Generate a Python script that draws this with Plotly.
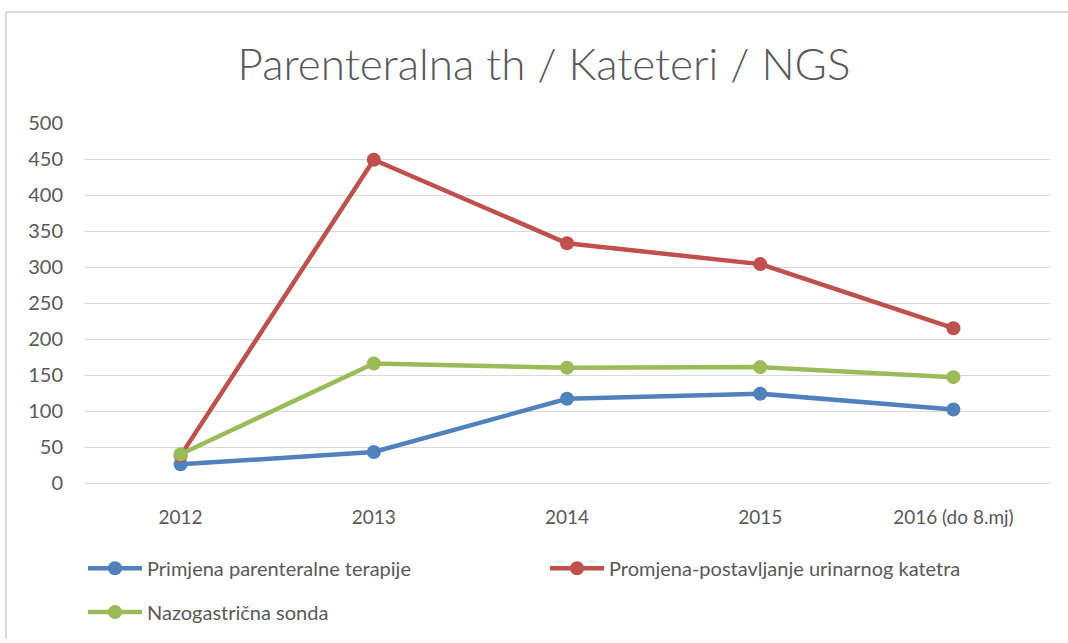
import plotly.graph_objects as go

categories = ["2012", "2013", "2014", "2015", "2016 (do 8.mj)"]
parenteralna = [26, 43, 117, 124, 102]
kateter = [38, 449, 333, 304, 215]
sonda = [40, 166, 160, 161, 147]
names = ["Primjena parenteralne terapije",
         "Promjena-postavljanje urinarnog katetra",
         "Nazogastrična sonda"]
colors = ["#4F81BD", "#C0504D", "#9BBB59"]
ytick_vals = [0, 50, 100, 150, 200, 250, 300, 350, 400, 450, 500]

W, H = 1068, 643
L, R, T, B = 84, 18, 123, 157
pw, ph = W - L - R, H - T - B

def px2x(p):
    return (p - L) / pw

def px2y(p):
    return (H - B - p) / ph

FONT = "Lato"
fig = go.Figure()
series = [parenteralna, kateter, sonda]
legends = ["legend", "legend", "legend2"]
for name, vals, col, lg in zip(names, series, colors, legends):
    fig.add_trace(go.Scatter(
        x=categories, y=vals, name=name, mode="lines+markers",
        line=dict(color=col, width=4.5),
        marker=dict(color=col, size=14),
        legend=lg,
    ))

fig.update_layout(
    width=W, height=H,
    margin=dict(l=L, r=R, t=T, b=B),
    paper_bgcolor="white", plot_bgcolor="white",
    font=dict(family=FONT, color="#595959", size=19),
    title=dict(text="Parenteralna th / Kateteri / NGS",
               x=544 / W, xanchor="center",
               y=1 - 65 / H, yanchor="middle",
               font=dict(family=FONT, size=44, color="#595959", weight=300)),
    xaxis=dict(type="category", range=[-0.5, 4.5], showgrid=False,
               showline=True, linecolor="#D9D9D9", linewidth=1,
               ticks="", tickfont=dict(size=19, color="#595959"),
               ticklabelstandoff=17),
    yaxis=dict(range=[0, 500], tickvals=ytick_vals, showgrid=True,
               gridcolor="#D9D9D9", gridwidth=1, zeroline=False,
               showline=False, ticks="", ticklabelstandoff=20,
               tickfont=dict(size=20, color="#595959")),
    legend=dict(orientation="h", x=px2x(83), xanchor="left",
                y=px2y(572), yanchor="middle",
                itemwidth=54,
                entrywidth=393, entrywidthmode="pixels",
                font=dict(size=20, color="#595959"),
                bgcolor="rgba(0,0,0,0)"),
    legend2=dict(orientation="h", x=px2x(83), xanchor="left",
                 y=px2y(616), yanchor="middle",
                 itemwidth=54,
                 font=dict(size=20, color="#595959"),
                 bgcolor="rgba(0,0,0,0)"),
    showlegend=True,
    shapes=[
        dict(type="line", xref="paper", yref="paper",
             x0=px2x(6), x1=px2x(W), y0=px2y(11), y1=px2y(11),
             line=dict(color="#D9D9D9", width=2), layer="below"),
        dict(type="line", xref="paper", yref="paper",
             x0=px2x(6), x1=px2x(6), y0=px2y(11), y1=px2y(H),
             line=dict(color="#D9D9D9", width=2), layer="below"),
    ],
)

fig.write_html("out.html",
               config={"displayModeBar": False},
               post_script="document.body.style.margin='0';"
                           "document.body.style.overflow='hidden';")
